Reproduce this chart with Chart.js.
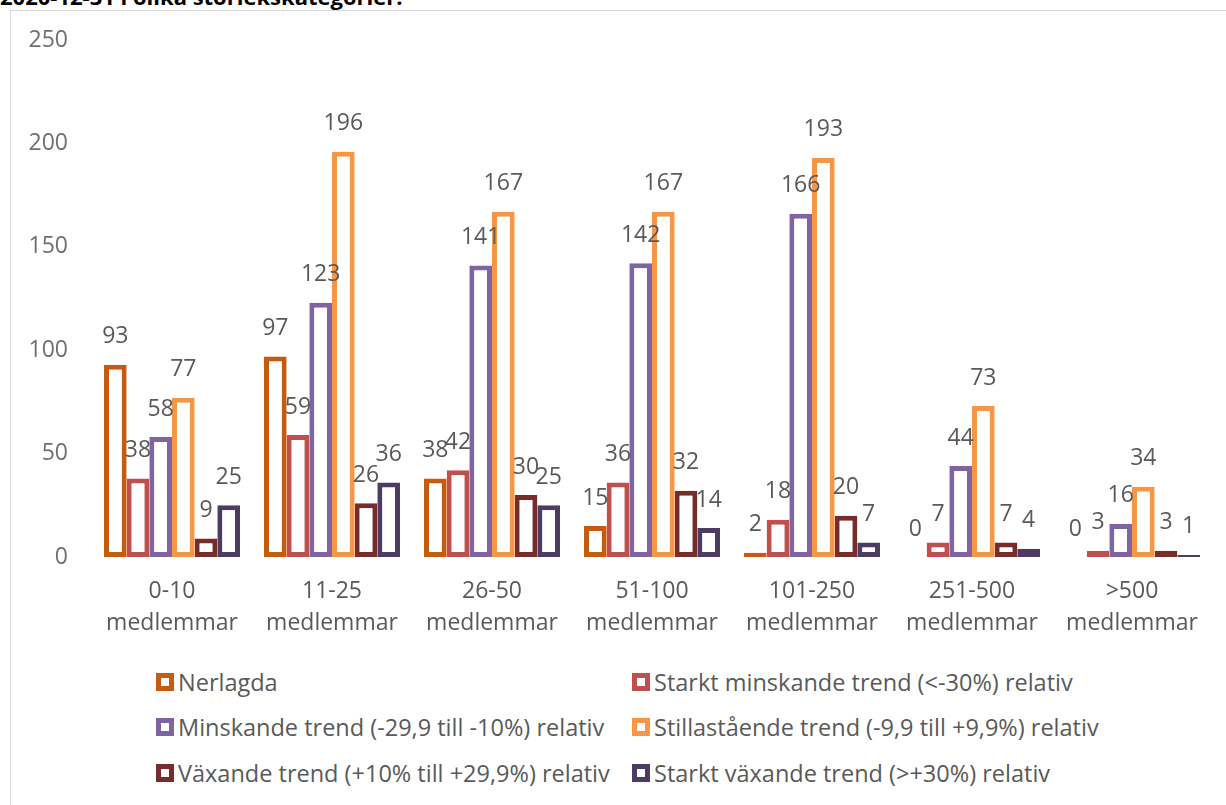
<!DOCTYPE html>
<html>
<head>
<meta charset="utf-8">
<script src="https://cdn.jsdelivr.net/npm/chart.js@4/dist/chart.umd.min.js"></script>
<style>
    body {
        margin: 0;
        background: #fff;
        width: 1226px;
        height: 805px;
        overflow: hidden;
        position: relative;
        font-family: 'Open Sans', 'Noto Sans', sans-serif;
    }
    #title {
        position: absolute;
        left: 0;
        top: -15px;
        font-weight: bold;
        font-size: 22px;
        line-height: 22px;
        white-space: nowrap;
        color: #000;
    }
    #frame {
        position: absolute;
        left: 10px;
        top: 10px;
        width: 1240px;
        height: 820px;
        border: 1px solid #d9d9d9;
        background: #fff;
    }
    #chartBox {
        position: absolute;
        left: 0;
        top: 0;
    }
    .item {
        position: absolute;
        height: 30px;
        display: flex;
        align-items: center;
        font-size: 23.5px;
        color: #595959;
        white-space: nowrap;
    }
    .box {
        width: 8px;
        height: 8px;
        border: 5px solid;
        background: #fff;
        margin-right: 4px;
    }
</style>
</head>
<body>
<div id="title">2020-12-31 i olika storlekskategorier.</div>
<div id="frame"></div>
<canvas id="chartBox" width="1226" height="660"></canvas>
<div id="legend"></div>

<script>
    const categories = [
        ['0-10', 'medlemmar'],
        ['11-25', 'medlemmar'],
        ['26-50', 'medlemmar'],
        ['51-100', 'medlemmar'],
        ['101-250', 'medlemmar'],
        ['251-500', 'medlemmar'],
        ['>500', 'medlemmar']
    ];
    const yTicks = [0, 50, 100, 150, 200, 250];

    const seriesNames = [
        'Nerlagda',
        'Starkt minskande trend (<-30%) relativ',
        'Minskande trend (-29,9 till -10%) relativ',
        'Stillastående trend (-9,9 till +9,9%) relativ',
        'Växande trend (+10% till +29,9%) relativ',
        'Starkt växande trend (>+30%) relativ'
    ];
    const nerlagda = [93, 97, 38, 15, 2, 0, 0];
    const starktMinskande = [38, 59, 42, 36, 18, 7, 3];
    const minskande = [58, 123, 141, 142, 166, 44, 16];
    const stillastaende = [77, 196, 167, 167, 193, 73, 34];
    const vaxande = [9, 26, 30, 32, 20, 7, 3];
    const starktVaxande = [25, 36, 25, 14, 7, 4, 1];

    const seriesColors = ['#C55A11', '#C0504D', '#8064A2', '#F79646', '#772C2A', '#4D3B62'];
    const seriesData = [nerlagda, starktMinskande, minskande, stillastaende, vaxande, starktVaxande];

    const fontFamily = "'Open Sans', 'Noto Sans', sans-serif";

    // value labels above every bar
    const valueLabels = {
        id: 'valueLabels',
        afterDatasetsDraw(chart) {
            const ctx = chart.ctx;
            ctx.save();
            ctx.font = '23px ' + fontFamily;
            ctx.fillStyle = '#595959';
            ctx.textAlign = 'center';
            ctx.textBaseline = 'middle';
            chart.data.datasets.forEach((ds, i) => {
                chart.getDatasetMeta(i).data.forEach((bar, j) => {
                    ctx.fillText(ds.data[j], bar.x, bar.y - 28);
                });
            });
            ctx.restore();
        }
    };

    const datasets = seriesNames.map((name, i) => ({
        label: name,
        data: seriesData[i],
        backgroundColor: '#fff',
        borderColor: seriesColors[i],
        borderWidth: 5,
        borderSkipped: false
    }));

    new Chart(document.getElementById('chartBox').getContext('2d'), {
        type: 'bar',
        data: {labels: categories, datasets: datasets},
        options: {
            responsive: false,
            animation: false,
            layout: {padding: {left: 0, right: 14, top: 40, bottom: 0}},
            datasets: {bar: {categoryPercentage: 0.85, barPercentage: 1}},
            plugins: {legend: {display: false}, tooltip: {enabled: false}},
            scales: {
                x: {
                    grid: {display: false, drawTicks: false},
                    border: {display: false},
                    ticks: {
                        color: '#595959',
                        font: {family: fontFamily, size: 23, lineHeight: 1.4},
                        padding: 18,
                        maxRotation: 0,
                        autoSkip: false
                    },
                    afterFit: scale => { scale.height = 103; }
                },
                y: {
                    min: 0,
                    max: 250,
                    grid: {display: false, drawTicks: false},
                    border: {display: false},
                    afterBuildTicks: scale => { scale.ticks = yTicks.map(v => ({value: v})); },
                    ticks: {
                        color: '#6f6f6f',
                        font: {family: fontFamily, size: 23},
                        padding: 24
                    },
                    afterFit: scale => { scale.width = 92; }
                }
            }
        },
        plugins: [valueLabels]
    });

    // legend in two columns, three rows
    const legend = document.getElementById('legend');
    const colX = [156, 632];
    const rowY = [682, 727, 773];
    seriesNames.forEach((name, i) => {
        const item = document.createElement('div');
        item.className = 'item';
        item.style.left = colX[i % 2] + 'px';
        item.style.top = (rowY[Math.floor(i / 2)] - 15) + 'px';
        item.innerHTML = `<span class="box" style="border-color:${seriesColors[i]}"></span><span></span>`;
        item.lastChild.textContent = name;
        legend.appendChild(item);
    });
</script>
</body>
</html>
